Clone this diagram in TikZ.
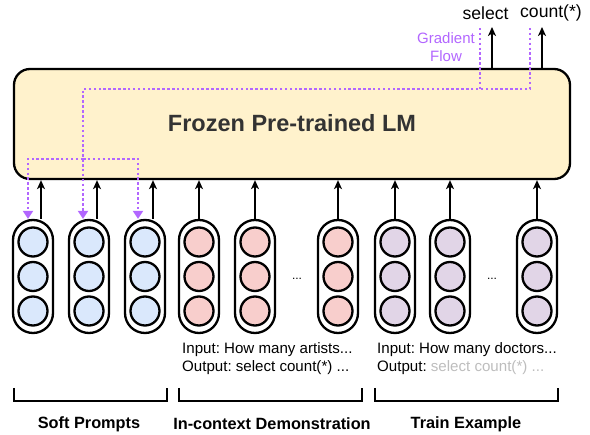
\documentclass[tikz,border=0pt]{standalone}
\usepackage{fontspec}
\setmainfont{Liberation Sans}
\usetikzlibrary{arrows.meta,calc}
\definecolor{lmfill}{HTML}{FFF2CC}
\definecolor{bluef}{HTML}{DAE8FC}
\definecolor{redf}{HTML}{F8CECC}
\definecolor{purf}{HTML}{E1D5E7}
\definecolor{gradc}{HTML}{B266FF}
\definecolor{darktxt}{HTML}{333333}
\definecolor{greytxt}{HTML}{BDBDBD}
\frenchspacing
\begin{document}
\begin{tikzpicture}[x=1pt,y=-1pt,
  lmbox/.style={draw=black,line width=2.3pt,fill=lmfill,rounded corners=16pt,minimum width=556pt,minimum height=110pt,inner sep=0pt},
  pill/.style={draw=black,line width=2.3pt,fill=white,rounded corners=20pt,minimum width=40pt,minimum height=113pt,inner sep=0pt},
  cell/.style={circle,draw=black,line width=2.3pt,minimum size=29pt,inner sep=0pt},
  up/.style={line width=2.2pt,-{Stealth[length=9pt,width=8pt,inset=2.5pt]}},
  grad/.style={draw=gradc,line width=2.5pt,dash pattern=on 2.5pt off 2.4pt},
  gradarr/.style={grad,-{Triangle[length=8pt,width=10pt,fill=gradc,color=gradc]}},
  brk/.style={line width=2.2pt},
  lbl/.style={font=\fontsize{16.3}{18}\selectfont\bfseries,inner sep=0pt},
  inp/.style={font=\fontsize{15.1}{18}\selectfont,align=left,anchor=west,inner sep=0pt},
  dots/.style={font=\fontsize{12}{14}\selectfont,inner sep=0pt}
]
\useasboundingbox (0,0) rectangle (590,435);
% main LM box
\node[lmbox] (lm) at (292,124) {};
\node[font=\fontsize{23.5}{26}\selectfont\bfseries,text=darktxt] (lmtxt) at (292,123) {Frozen Pre-trained LM};
% pills
\foreach \n/\x/\c in {p1/33/bluef,p2/89/bluef,p3/145/bluef,p4/199/redf,p5/255/redf,p6/338/redf,p7/395/purf,p8/450/purf,p9/537/purf}{
  \node[pill] (\n) at (\x,276.5) {};
  \node[cell,fill=\c] (\n a) at (\x,242) {};
  \node[cell,fill=\c] (\n b) at (\x,276.5) {};
  \node[cell,fill=\c] (\n c) at (\x,311) {};
}
\node[dots] (d1) at (297,279) {...};
\node[dots] (d2) at (492,279) {...};
% arrows from soft prompts
\foreach \n in {p1,p2,p3}{
  \draw[up] ([xshift=8pt]\n.north) -- ([xshift=8pt]\n.north |- lm.south);
}
\foreach \n in {p4,p5,p6,p7,p8,p9}{
  \draw[up] (\n.north) -- (\n.north |- lm.south);
}
% output arrows
\node[font=\fontsize{17.6}{20}\selectfont,inner sep=0pt] (sel) at (485.5,13) {select};
\node[font=\fontsize{17.6}{20}\selectfont,inner sep=0pt] (cnt) at (551,13) {count(*)};
\coordinate (o1) at (492,27);
\coordinate (o2) at (542,27);
\draw[up] (o1 |- lm.north) -- (o1);
\draw[up] (o2 |- lm.north) -- (o2);
% gradient flow
\node[font=\fontsize{15}{18}\selectfont,text=gradc,align=center,inner sep=0pt] (gf) at (446,47) {Gradient\\Flow};
\coordinate (g1) at (480,28);
\coordinate (g2) at (530,28);
\coordinate (gm) at (83,89);
\coordinate (gs) at (83,159);
\draw[grad] (g1) -- (g1 |- gm);
\draw[gradarr] (g2) |- (gm) -- ([xshift=-6pt]p2.north);
\draw[gradarr] (gs) -| ([xshift=-5pt]p1.north);
\draw[gradarr] (gs) -| ([xshift=-7pt]p3.north);
% input texts
\node[inp] (t1) at (182,359) {Input: How many artists...\\Output: select count(*) ...};
\node[inp] (t2) at (377,359) {Input: How many doctors...\\Output: \textcolor{greytxt}{select count(*) ...}};
% brackets
\draw[brk] (14,388) -- (14,401) -- (167,401) -- (167,388);
\draw[brk] (179,388) -- (179,401) -- (362,401) -- (362,388);
\draw[brk] (375,388) -- (375,401) -- (558,401) -- (558,388);
\node[lbl] (l1) at (89,424) {Soft Prompts};
\node[lbl] (l2) at (272,424) {In-context Demonstration};
\node[lbl] (l3) at (466,424) {Train Example};
\end{tikzpicture}
\end{document}
